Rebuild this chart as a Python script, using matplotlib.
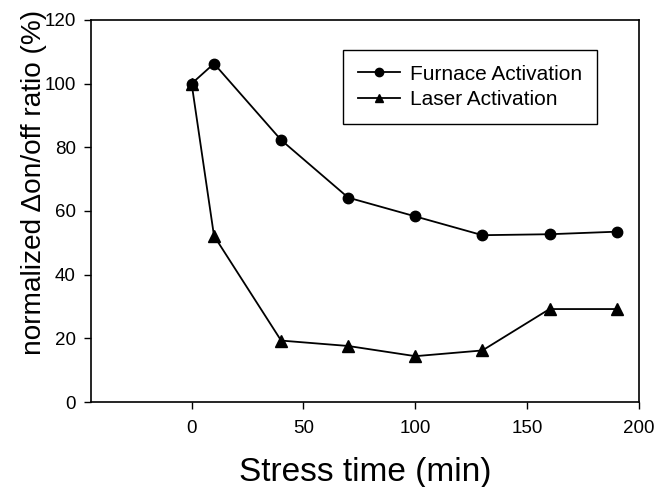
import matplotlib
matplotlib.use("Agg")
import matplotlib.pyplot as plt

plt.rcParams['font.family'] = ['Liberation Sans', 'DejaVu Sans']

time = [0, 10, 40, 70, 100, 130, 160, 190]
furnace = [100, 106.3, 82.3, 64.2, 58.3, 52.4, 52.7, 53.5]
laser = [100, 52.2, 19.3, 17.6, 14.4, 16.2, 29.2, 29.2]
xticks = [0, 50, 100, 150, 200]
yticks = [0, 20, 40, 60, 80, 100, 120]

fig = plt.figure(figsize=(6.67, 4.87), dpi=100)
ax = fig.add_axes([0.1364, 0.1745, 0.8216, 0.7845])

ax.plot(time, furnace, '-o', color='black', lw=1.3, ms=7.5, label='Furnace Activation')
ax.plot(time, laser, '-^', color='black', lw=1.3, ms=8, label='Laser Activation')

ax.set_xlim(-45, 200)
ax.set_ylim(0, 120)
ax.set_xticks(xticks)
ax.set_yticks(yticks)
ax.tick_params(direction='out', length=5, width=1, labelsize=13.5, colors='black')
ax.tick_params(axis='x', pad=8)
ax.tick_params(axis='y', pad=6)
for s in ax.spines.values():
    s.set_linewidth(1.2)

ax.set_xlabel('Stress time (min)', fontsize=24, labelpad=14)
ax.set_ylabel('normalized \u0394on/off ratio (%)', fontsize=20.2)
ax.yaxis.set_label_coords(-0.08, 0.576)

leg = ax.legend(loc='upper right', bbox_to_anchor=(0.923, 0.921), fontsize=15,
                frameon=True, fancybox=False, edgecolor='black', framealpha=1,
                handlelength=2.0, handletextpad=0.5, borderpad=0.7, labelspacing=0.3,
                borderaxespad=0)
leg.get_frame().set_linewidth(1.0)
for h in leg.legend_handles:
    h.set_markersize(6)

fig.savefig('out.png', dpi=100)
